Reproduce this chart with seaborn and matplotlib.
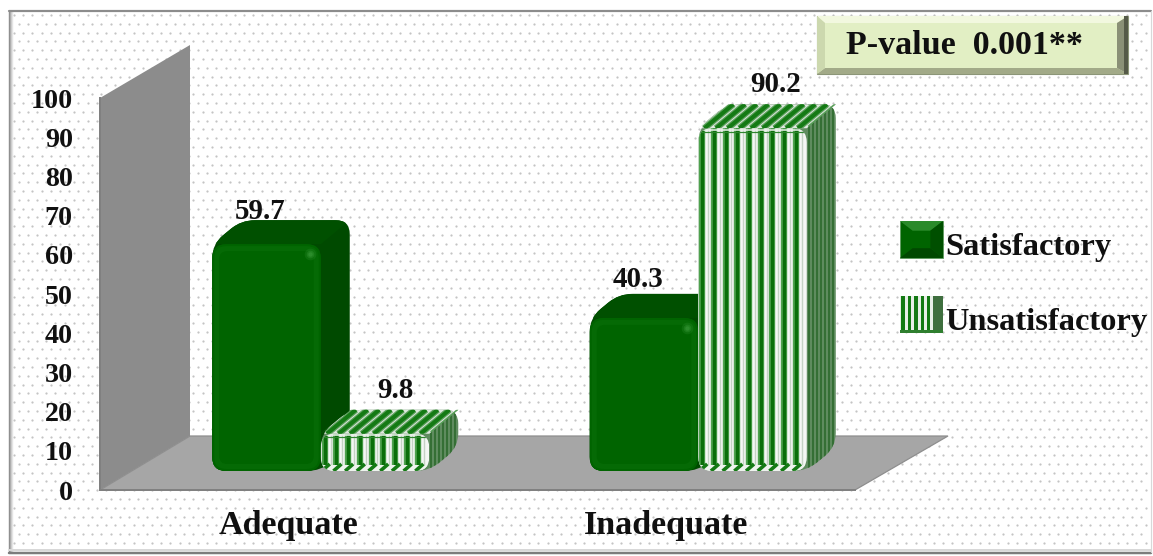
import matplotlib
matplotlib.use("Agg")
import numpy as np
import pandas as pd
import seaborn as sns
import matplotlib.pyplot as plt
from matplotlib.collections import LineCollection
from matplotlib.legend_handler import HandlerBase
from matplotlib.patches import PathPatch, Polygon, Rectangle
from matplotlib.path import Path

# Chart values
categories = ["Adequate", "Inadequate"]
groups = ["Satisfactory", "Unsatisfactory"]
satisfactory = [59.7, 40.3]
unsatisfactory = [9.8, 90.2]
y_ticks = list(range(0, 101, 10))
p_value_text = "P-value  0.001**"

# Canvas geometry in pixels
W, H = 1153, 556
AXIS_LEFT, AXIS_RIGHT, AXIS_TOP, AXIS_ZERO = 100, 855, 98, 490
BAR_SHIFT_X, BAR_BASE = 32, 471
BAR_PX_PER_UNIT = 3.8
DEPTH_X, DEPTH_Y = 29, 24
RADIUS = 14

SERIF = "Liberation Serif"
PT = 72 / 100  # points per pixel at 100 dpi
GREEN_FACE, GREEN_EDGE, GREEN_TOP, GREEN_SIDE = "#006400", "#005a00", "#005000", "#004a00"

sns.set_theme(style="white")
plt.rcParams["font.family"] = [SERIF, "DejaVu Serif"]
plt.rcParams["font.weight"] = "bold"

fig = plt.figure(figsize=(W / 100, H / 100), dpi=100, facecolor="white")


def axes_px(left, top, right, bottom, **kw):
    return fig.add_axes([left / W, 1 - bottom / H, (right - left) / W, (bottom - top) / H], **kw)


# Backdrop layer: frame, dotted paper, 3D walls and the p-value plate
bg = fig.add_axes([0, 0, 1, 1], zorder=0)
bg.set_xlim(0, W)
bg.set_ylim(H, 0)
bg.axis("off")

dot_rows = np.arange(15, 551, 8.8)
dot_x, dot_y = [], []
for i, row in enumerate(dot_rows):
    xs = np.arange(14 + (i % 2) * 4.6, 1150, 9.2)
    dot_x.append(xs)
    dot_y.append(np.full_like(xs, row))
bg.scatter(np.concatenate(dot_x), np.concatenate(dot_y), s=2.6, c="#c4c4c4", linewidths=0)

for inset, shade in enumerate(["#8a8a8a", "#a8a8a8", "#c8c8c8", "#e4e4e4"]):
    bg.plot([9 + inset, 9 + inset], [11, 552], color=shade, lw=1.0 * PT * 1.4, solid_capstyle="butt")
bg.plot([9, 1151], [11, 11], color="#8c8c8c", lw=2.2 * PT)
bg.plot([9, 1151], [552.5, 552.5], color="#7c7c7c", lw=2.5 * PT)
bg.plot([9, 1151], [549.5, 549.5], color="#d8d8d8", lw=2 * PT)
bg.plot([1151, 1151], [11, 552], color="#d8d8d8", lw=1.2 * PT)

bg.add_patch(Polygon([(AXIS_LEFT, AXIS_TOP), (190, 45), (190, 436), (AXIS_LEFT, AXIS_ZERO)],
                     facecolor="#8c8c8c", edgecolor="none"))
bg.add_patch(Polygon([(AXIS_LEFT, AXIS_ZERO), (AXIS_RIGHT, AXIS_ZERO), (948, 436), (190, 436)],
                     facecolor="#a6a6a6", edgecolor="#8e8e8e", lw=0.9))

# Bevelled p-value plate
L, T, R, B = 817, 16, 1128, 74
bg.add_patch(Rectangle((L, T), R - L, B - T, facecolor="#e2efc4", edgecolor="#8c9678", lw=0.8))
bg.add_patch(Polygon([(L, T), (R, T), (R - 11, T + 7), (L + 8, T + 7)], facecolor="#f2f8df", edgecolor="none"))
bg.add_patch(Polygon([(L, B), (R, B), (R - 11, B - 6), (L + 8, B - 6)], facecolor="#a2aa88", edgecolor="none"))
bg.add_patch(Polygon([(L, T), (L + 8, T + 7), (L + 8, B - 6), (L, B)], facecolor="#ccd8ae", edgecolor="none"))
bg.add_patch(Polygon([(R, T), (R - 11, T + 7), (R - 11, B - 6), (R, B)], facecolor="#8a9076", edgecolor="none"))
bg.add_patch(Rectangle((R - 4, T), 4, B - T, facecolor="#555a48", edgecolor="none"))
bg.text(964, 46, p_value_text, ha="center", va="center", fontsize=34 * PT,
        color="#101010", fontweight="bold")

# Value axis and category axis in the front plane of the chart
ax = axes_px(AXIS_LEFT, AXIS_TOP, AXIS_RIGHT, AXIS_ZERO, zorder=1)
ax.patch.set_alpha(0)
ax.set_xlim(-0.5, 1.5)
ax.set_ylim(0, 100)
ax.set_yticks(y_ticks)
ax.set_xticks(range(len(categories)), categories)
ax.set_xticks([-0.5, 0.5, 1.5], minor=True)
ax.tick_params(axis="y", length=9 * PT, width=2 * PT, color="#808080", pad=18 * PT,
               labelsize=28 * PT, labelcolor="#101010")
ax.tick_params(axis="x", which="major", length=0, pad=20 * PT, labelsize=34 * PT, labelcolor="#101010")
ax.tick_params(axis="x", which="minor", length=9 * PT, width=2 * PT, color="#808080")
for name in ("top", "right"):
    ax.spines[name].set_visible(False)
for name in ("left", "bottom"):
    ax.spines[name].set_color("#808080")
    ax.spines[name].set_linewidth(2 * PT)

# Bars live in a plane pushed forward into the floor
df = pd.DataFrame({
    "category": categories * 2,
    "group": [groups[0]] * 2 + [groups[1]] * 2,
    "value": satisfactory + unsatisfactory,
})
PLANE_TOP = 40
ax_bars = axes_px(AXIS_LEFT + BAR_SHIFT_X, PLANE_TOP, AXIS_RIGHT + BAR_SHIFT_X, BAR_BASE, zorder=2)
sns.barplot(data=df, x="category", y="value", hue="group", hue_order=groups, width=0.575, gap=0,
            palette=[GREEN_FACE, "#f4f7f4"], legend=False, saturation=1, ax=ax_bars, errorbar=None,
            edgecolor="none", linewidth=0)
ax_bars.set_xlim(-0.5, 1.5)
ax_bars.set_ylim(0, (BAR_BASE - PLANE_TOP) / BAR_PX_PER_UNIT)
ax_bars.axis("off")

sx = (AXIS_RIGHT - AXIS_LEFT) / 2
sy = BAR_PX_PER_UNIT


def rounded(points, r=RADIUS):
    """Closed path through data-space points with corners rounded by r pixels."""
    pts = np.array(points, dtype=float) * [sx, sy]
    verts, codes = [], []
    n = len(pts)
    for i in range(n):
        p, prev, nxt = pts[i], pts[i - 1], pts[(i + 1) % n]
        a = p + (prev - p) / np.linalg.norm(prev - p) * min(r, np.linalg.norm(prev - p) / 2)
        b = p + (nxt - p) / np.linalg.norm(nxt - p) * min(r, np.linalg.norm(nxt - p) / 2)
        verts += [a, p, b]
        codes += [Path.LINETO if i else Path.MOVETO, Path.CURVE3, Path.CURVE3]
    verts.append(verts[0])
    codes.append(Path.CLOSEPOLY)
    return Path(np.array(verts) / [sx, sy], codes)


def add_path(path, z, color, clip=None, alpha=None):
    patch = PathPatch(path, facecolor=color, edgecolor="none", zorder=z, clip_on=clip is not None, alpha=alpha)
    ax_bars.add_patch(patch)
    if clip is not None:
        patch.set_clip_path(clip)
    return patch


def add_lines(segments, z, color, width_px, clip, alpha=1.0):
    lines = LineCollection(segments, colors=color, linewidths=width_px * PT, zorder=z, alpha=alpha)
    ax_bars.add_collection(lines, autolim=False)
    lines.set_clip_path(clip)


def inset_rect(x0, x1, top, px):
    dx, dy = px / sx, px / sy
    return [(x0 + dx, dy), (x1 - dx, dy), (x1 - dx, top - dy), (x0 + dx, top - dy)]


def extrude(bar, z, striped):
    x0, x1, top = bar.get_x(), bar.get_x() + bar.get_width(), bar.get_height()
    dx, dy = DEPTH_X / sx, DEPTH_Y / sy
    outline = [(x0, 0), (x1, 0), (x1 + dx, dy), (x1 + dx, top + dy), (x0 + dx, top + dy), (x0, top)]
    cap = [(x0, top), (x1, top), (x1 + dx, top + dy), (x0 + dx, top + dy)]
    front = rounded([(x0, 0), (x1, 0), (x1, top), (x0, top)])

    body = add_path(rounded(outline), z, "#5f8c5f" if striped else GREEN_SIDE)
    add_path(Path(cap + [cap[0]]), z + 0.1, "#e0e8e0" if striped else GREEN_TOP, clip=body)
    bar.set_zorder(z + 0.4)
    front_patch = add_path(front, z + 0.3, "none" if striped else GREEN_EDGE)
    bar.set_clip_path(front_patch)

    if striped:
        # Hoop stripes run down the front, sheared across the lid and tight along the side
        side_xs = np.arange(x1 + 2 / sx, x1 + dx, 4 / sx)
        add_lines([[(x, 0), (x, top + dy)] for x in side_xs], z + 0.05, "#356f35", 2.0, body)
        cap_patch = add_path(Path(cap + [cap[0]]), z + 0.12, "none", clip=body)
        lid_xs = np.arange(x0 - dx, x1 + dx, 11.7 / sx)
        lid = [[(x, top), (x + dx, top + dy)] for x in lid_xs]
        add_lines(lid, z + 0.14, "#5fa25f", 6.5, cap_patch)
        add_lines(lid, z + 0.15, "#147a14", 4.0, cap_patch)
        front_xs = np.arange(x0 + 4 / sx, x1, 11.7 / sx)
        seg = [[(x, 0), (x, top)] for x in front_xs]
        add_lines(seg, z + 0.5, "#4fa24f", 6.4, front_patch)
        add_lines(seg, z + 0.6, "#0a6e0a", 3.4, front_patch)
        add_lines([[(x + 5.8 / sx, 0), (x + 5.8 / sx, top)] for x in front_xs], z + 0.55, "#c4d2c4", 1.4, front_patch)
        # Sheared bands where the stripes wrap around the rounded lower and upper edges
        add_lines([[(x0, 3.5 / sy), (x1, 3.5 / sy)]], z + 0.62, "#eef3ee", 7, front_patch)
        foot = [[(x - 3 / sx, 0), (x + 5 / sx, 7 / sy)] for x in front_xs]
        add_lines(foot, z + 0.65, "#147a14", 3.6, front_patch)
        add_lines([[(x0, top - 1.5 / sy), (x1, top - 1.5 / sy)]], z + 0.7, "#e8efe8", 1.6, front_patch)
        add_lines([[(x0, top - 3.5 / sy), (x1, top - 3.5 / sy)]], z + 0.7, "#2f862f", 1.2, front_patch)
    else:
        add_path(rounded(inset_rect(x0, x1, top, 2), r=12), z + 0.5, "#056a05", clip=front_patch)
        add_path(rounded(inset_rect(x0, x1, top, 7), r=8), z + 0.6, GREEN_FACE, clip=front_patch)
        for size, alpha in ((70, 0.2), (30, 0.3), (10, 0.45)):
            ax_bars.scatter([x1 - 11 / sx], [top - 10 / sy], s=size, c="#3fa03f", alpha=alpha,
                            linewidths=0, zorder=z + 0.7)


# Label offsets in pixels relative to each bar's front-top centre
label_nudges = {59.7: (-6, 33), 9.8: (20, 43), 40.3: (-6, 38), 90.2: (23, 44)}

z_level = 3
for container, striped in zip(ax_bars.containers, (False, True)):
    for bar in container:
        extrude(bar, z_level, striped)
        z_level += 1
        value = bar.get_height()
        nudge = label_nudges[round(value, 1)]
        ax_bars.annotate(f"{value:.1f}", (bar.get_x() + bar.get_width() / 2, value),
                         xytext=(nudge[0] * PT, nudge[1] * PT), textcoords="offset points",
                         ha="center", va="center", fontsize=29 * PT, fontweight="bold",
                         color="#101010", zorder=20, annotation_clip=False)


class BevelSwatch(HandlerBase):
    """Legend key drawn as a small bevelled tile, optionally striped, raised above the baseline."""

    def __init__(self, striped):
        super().__init__()
        self.striped = striped

    def create_artists(self, legend, orig_handle, xdescent, ydescent, width, height, fontsize, trans):
        x0, y0 = -xdescent, -ydescent + 5 * PT
        x1, y1 = x0 + width, y0 + height
        artists = []
        if self.striped:
            artists.append(Rectangle((x0, y0), width, height, facecolor="#e8efe8", edgecolor="none", transform=trans))
            for x in np.arange(x0 + 1, x1 - 9, 4.6):
                artists.append(Rectangle((x, y0), 2.4, height, facecolor="#147a14", edgecolor="none", transform=trans))
            artists.append(Rectangle((x1 - 7, y0), 7, height, facecolor="#3f6f3f", edgecolor="none", transform=trans))
            artists.append(Rectangle((x0, y0), width, 2, facecolor="#2f7f2f", edgecolor="none", transform=trans))
        else:
            m = 7
            artists.append(Rectangle((x0, y0), width, height, facecolor=GREEN_FACE, edgecolor="#5f9a5f", lw=0.6, transform=trans))
            artists.append(Polygon([(x0, y1), (x1, y1), (x1 - m * 1.3, y1 - m), (x0 + m * 1.3, y1 - m)], facecolor="#2a8a2a", edgecolor="none", transform=trans))
            artists.append(Polygon([(x0, y0), (x1, y0), (x1 - m * 1.3, y0 + m), (x0 + m * 1.3, y0 + m)], facecolor="#004800", edgecolor="none", transform=trans))
            artists.append(Polygon([(x1, y0), (x1, y1), (x1 - m * 1.3, y1 - m), (x1 - m * 1.3, y0 + m)], facecolor="#004f00", edgecolor="none", transform=trans))
        return artists


containers = ax_bars.containers
ax_bars.legend(containers, groups, loc="upper left", bbox_to_anchor=(900 / W, 1 - 226 / H),
               bbox_transform=fig.transFigure, frameon=False, borderpad=0, borderaxespad=0,
               prop={"family": SERIF, "weight": "bold", "size": 32.5 * PT},
               handlelength=43 / 32.5, handleheight=1.37, handletextpad=0.08, labelspacing=1.17,
               labelcolor="#101010",
               handler_map={containers[0]: BevelSwatch(False), containers[1]: BevelSwatch(True)})

fig.savefig("out.png", dpi=100)
